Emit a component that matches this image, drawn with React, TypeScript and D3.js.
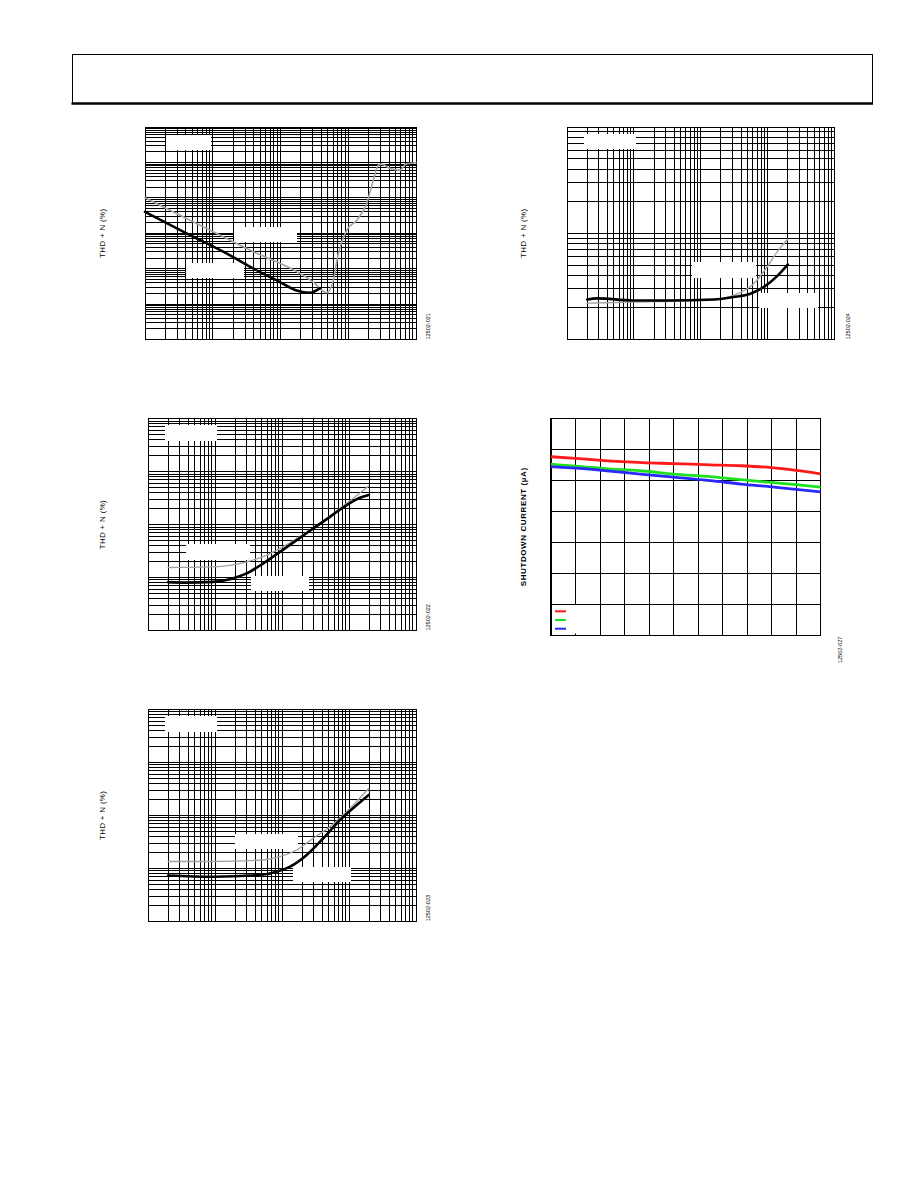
import React from 'react';
import * as d3 from 'd3';

// ---------- Chart 1: THD+N vs output power ----------
const c1BlackPower = [0.001, 0.00417, 0.018, 0.0393, 0.0984, 0.173, 0.272, 0.383];
const c1BlackThd = [0.40, 0.098, 0.0238, 0.0102, 0.00418, 0.00243, 0.00209, 0.00283];
const c1GrayPower = [0.001, 0.0317, 0.305, 0.481, 0.601, 0.713, 0.948, 1.333, 1.87, 2.344, 2.78, 3.12, 4.13, 5.8, 7.12, 10];
const c1GrayThd = [1.0, 0.0369, 0.00418, 0.00209, 0.00467, 0.0266, 0.1216, 0.233, 0.692, 3.16, 8.4, 8.97, 6.78, 6.07, 8.97, 9.77];

// ---------- Chart 2: THD+N vs frequency ----------
const c2BlackFreq = [20, 35.6, 94.4, 167, 297, 526, 933, 1656, 2930, 5200, 9250, 14590, 19700];
const c2BlackThd = [0.00818, 0.00801, 0.0083, 0.00933, 0.01197, 0.0185, 0.0306, 0.0509, 0.0847, 0.140, 0.234, 0.321, 0.361];
const c2GrayFreq = [20, 94, 297, 591, 933, 2930, 9250, 19700];
const c2GrayThd = [0.0155, 0.0159, 0.0198, 0.0265, 0.0355, 0.0871, 0.252, 0.535];

// ---------- Chart 3: THD+N vs frequency ----------
const c3BlackFreq = [20, 94, 470, 834, 1316, 2336, 4134, 7340, 13030, 19700];
const c3BlackThd = [0.00733, 0.00695, 0.00748, 0.00865, 0.01074, 0.01786, 0.037, 0.0818, 0.157, 0.243];
const c3GrayFreq = [20, 94, 526, 933, 1656, 2930, 5200, 9250, 19700];
const c3GrayThd = [0.01346, 0.01346, 0.0144, 0.0166, 0.0222, 0.037, 0.0612, 0.1175, 0.325];

// ---------- Chart 4: THD+N vs frequency ----------
const c4BlackFreq = [20, 28, 98, 312, 1556, 3100, 5520, 8730, 13870, 20000];
const c4BlackThd = [0.00238, 0.00244, 0.00233, 0.00233, 0.00238, 0.00251, 0.0027, 0.00311, 0.00395, 0.00507];
const c4GrayFreq = [20, 98, 1556, 3100, 6180, 9820, 13870, 20000];
const c4GrayThd = [0.0022, 0.00225, 0.00237, 0.0026, 0.00335, 0.00481, 0.00667, 0.00877];

// ---------- Chart 5: shutdown current vs supply voltage ----------
const c5Voltage = [1.6, 1.8, 2.1, 2.35, 2.6, 2.9, 3.15, 3.4, 3.6, 3.8];
const c5Red = [0.576, 0.571, 0.562, 0.557, 0.554, 0.550, 0.547, 0.541, 0.532, 0.521];
const c5Green = [0.552, 0.546, 0.536, 0.530, 0.520, 0.512, 0.502, 0.493, 0.486, 0.478];
const c5Blue = [0.544, 0.539, 0.529, 0.519, 0.510, 0.499, 0.488, 0.479, 0.471, 0.463];
const c5XTicks = [1.6, 1.8, 2.0, 2.2, 2.4, 2.6, 2.8, 3.0, 3.2, 3.4, 3.6, 3.8];
const c5YTicks = [0, 0.1, 0.2, 0.3, 0.4, 0.5, 0.6, 0.7];

const zip = (xs: number[], ys: number[]) => xs.map((x, i) => [x, ys[i]] as [number, number]);

type Series = { data: [number, number][]; color: string; width: number };

function LogChart(props: {
  x: number; y: number; w: number; h: number;
  xDomain: [number, number]; yDomain: [number, number];
  series: Series[]; boxes: number[][]; title: string; id: string;
  titleOffset: number; idOffset: number;
}) {
  const { x, y, w, h, xDomain, yDomain, series, boxes, title, id, titleOffset, idOffset } = props;
  const xs = d3.scaleLog().domain(xDomain).range([x, x + w]);
  const ys = d3.scaleLog().domain(yDomain).range([y + h, y]);
  const xt = xs.ticks();
  const yt = ys.ticks();
  const line = d3.line<[number, number]>().x(d => xs(d[0])).y(d => ys(d[1])).curve(d3.curveMonotoneX);
  return (
    <g>
      <g stroke="#000" strokeWidth={1} shapeRendering="crispEdges">
        {xt.map((t, i) => <line key={'x' + i} x1={xs(t)} x2={xs(t)} y1={y} y2={y + h} />)}
        {yt.map((t, i) => <line key={'y' + i} x1={x} x2={x + w} y1={ys(t)} y2={ys(t)} />)}
      </g>
      {boxes.map((b, i) => <rect key={'b' + i} x={b[0]} y={b[1]} width={b[2]} height={b[3]} fill="#fff" />)}
      <rect x={x} y={y} width={w} height={h} fill="none" stroke="#000" strokeWidth={1} shapeRendering="crispEdges" />
      {series.map((s, i) => (
        <path key={'s' + i} d={line(s.data) || ''} fill="none" stroke={s.color} strokeWidth={s.width} strokeLinejoin="round" strokeLinecap="round" />
      ))}
      <text transform={`translate(${x - titleOffset},${y + h / 2}) rotate(-90)`} textAnchor="middle"
        fontFamily="Liberation Sans, Arial, sans-serif" fontSize={8} letterSpacing={0.3}>{title}</text>
      <text transform={`translate(${x + w + idOffset},${y + h}) rotate(-90)`} textAnchor="start"
        fontFamily="Liberation Sans, Arial, sans-serif" fontSize={5.5}>{id}</text>
    </g>
  );
}

function LinChart() {
  const x = 551, y = 418.3, w = 269.5, h = 217;
  const xs = d3.scaleLinear().domain([1.6, 3.8]).range([x, x + w]);
  const ys = d3.scaleLinear().domain([0, 0.7]).range([y + h, y]);
  const line = d3.line<[number, number]>().x(d => xs(d[0])).y(d => ys(d[1])).curve(d3.curveMonotoneX);
  const ser = [
    { data: zip(c5Voltage, c5Red), color: '#ff1a1a' },
    { data: zip(c5Voltage, c5Green), color: '#1ee01e' },
    { data: zip(c5Voltage, c5Blue), color: '#2828ff' },
  ];
  return (
    <g>
      <g stroke="#000" strokeWidth={1} shapeRendering="crispEdges">
        {c5XTicks.map((t, i) => <line key={'x' + i} x1={xs(t)} x2={xs(t)} y1={y} y2={y + h} />)}
        {c5YTicks.map((t, i) => <line key={'y' + i} x1={x} x2={x + w} y1={ys(t)} y2={ys(t)} />)}
      </g>
      <rect x={552} y={605} width={45} height={28.5} fill="#fff" />
      <rect x={x} y={y} width={w} height={h} fill="none" stroke="#000" strokeWidth={1.3} shapeRendering="crispEdges" />
      {ser.map((s, i) => (
        <path key={i} d={line(s.data) || ''} fill="none" stroke={s.color} strokeWidth={2.8} />
      ))}
      {ser.map((s, i) => (
        <line key={'l' + i} x1={555} x2={566} y1={611.3 + i * 8.7} y2={611.3 + i * 8.7} stroke={s.color} strokeWidth={2} />
      ))}
      <text transform={`translate(${526},${y + h / 2}) rotate(-90)`} textAnchor="middle"
        fontFamily="Liberation Sans, Arial, sans-serif" fontSize={8} fontWeight="bold" letterSpacing={0.6}>SHUTDOWN CURRENT (µA)</text>
      <text transform={`translate(${842},${663}) rotate(-90)`} textAnchor="start"
        fontFamily="Liberation Sans, Arial, sans-serif" fontSize={5.5}>12502-027</text>
    </g>
  );
}

export default function App() {
  return (
    <svg width={918} height={1188} style={{ position: 'absolute', left: 0, top: 0, background: '#fff' }}>
      <rect x={0} y={0} width={918} height={1188} fill="#fff" />
      {/* header frame */}
      <rect x={72} y={54} width={800.5} height={49} fill="none" stroke="#000" strokeWidth={1} shapeRendering="crispEdges" />
      <line x1={71.5} x2={873} y1={103.5} y2={103.5} stroke="#000" strokeWidth={2.5} />

      <LogChart x={145} y={127} w={271} h={212.5} xDomain={[0.001, 10]} yDomain={[0.0001, 100]}
        series={[
          { data: zip(c1GrayPower, c1GrayThd), color: '#a3a3a3', width: 1.6 },
          { data: zip(c1BlackPower, c1BlackThd), color: '#000', width: 2.6 },
        ]}
        boxes={[[166, 135, 45, 15], [234, 227, 63, 15], [186, 263, 58, 15]]}
        title="THD + N (%)" id="12502-021" titleOffset={40} idOffset={14} />

      <LogChart x={567} y={127} w={267.5} h={212.5} xDomain={[10, 100000]} yDomain={[0.001, 0.1]}
        series={[
          { data: zip(c4GrayFreq, c4GrayThd), color: '#a3a3a3', width: 1.4 },
          { data: zip(c4BlackFreq, c4BlackThd), color: '#000', width: 2.6 },
        ]}
        boxes={[[584, 134, 52, 15], [692, 262, 64, 16], [759, 293, 59, 15]]}
        title="THD + N (%)" id="12502-024" titleOffset={41} idOffset={15.5} />

      <LogChart x={148} y={418.7} w={268} h={211.8} xDomain={[10, 100000]} yDomain={[0.001, 10]}
        series={[
          { data: zip(c2GrayFreq, c2GrayThd), color: '#a3a3a3', width: 1.4 },
          { data: zip(c2BlackFreq, c2BlackThd), color: '#000', width: 2.6 },
        ]}
        boxes={[[165, 425, 52, 16], [186, 544, 64, 16], [251, 576, 58, 15]]}
        title="THD + N (%)" id="12502-022" titleOffset={43} idOffset={14} />

      <LogChart x={148} y={709.5} w={268} h={211.8} xDomain={[10, 100000]} yDomain={[0.001, 10]}
        series={[
          { data: zip(c3GrayFreq, c3GrayThd), color: '#a3a3a3', width: 1.4 },
          { data: zip(c3BlackFreq, c3BlackThd), color: '#000', width: 2.6 },
        ]}
        boxes={[[165, 716, 52, 16], [235, 834, 63, 15], [293, 867, 58, 15]]}
        title="THD + N (%)" id="12502-023" titleOffset={43} idOffset={14} />

      <LinChart />
    </svg>
  );
}
